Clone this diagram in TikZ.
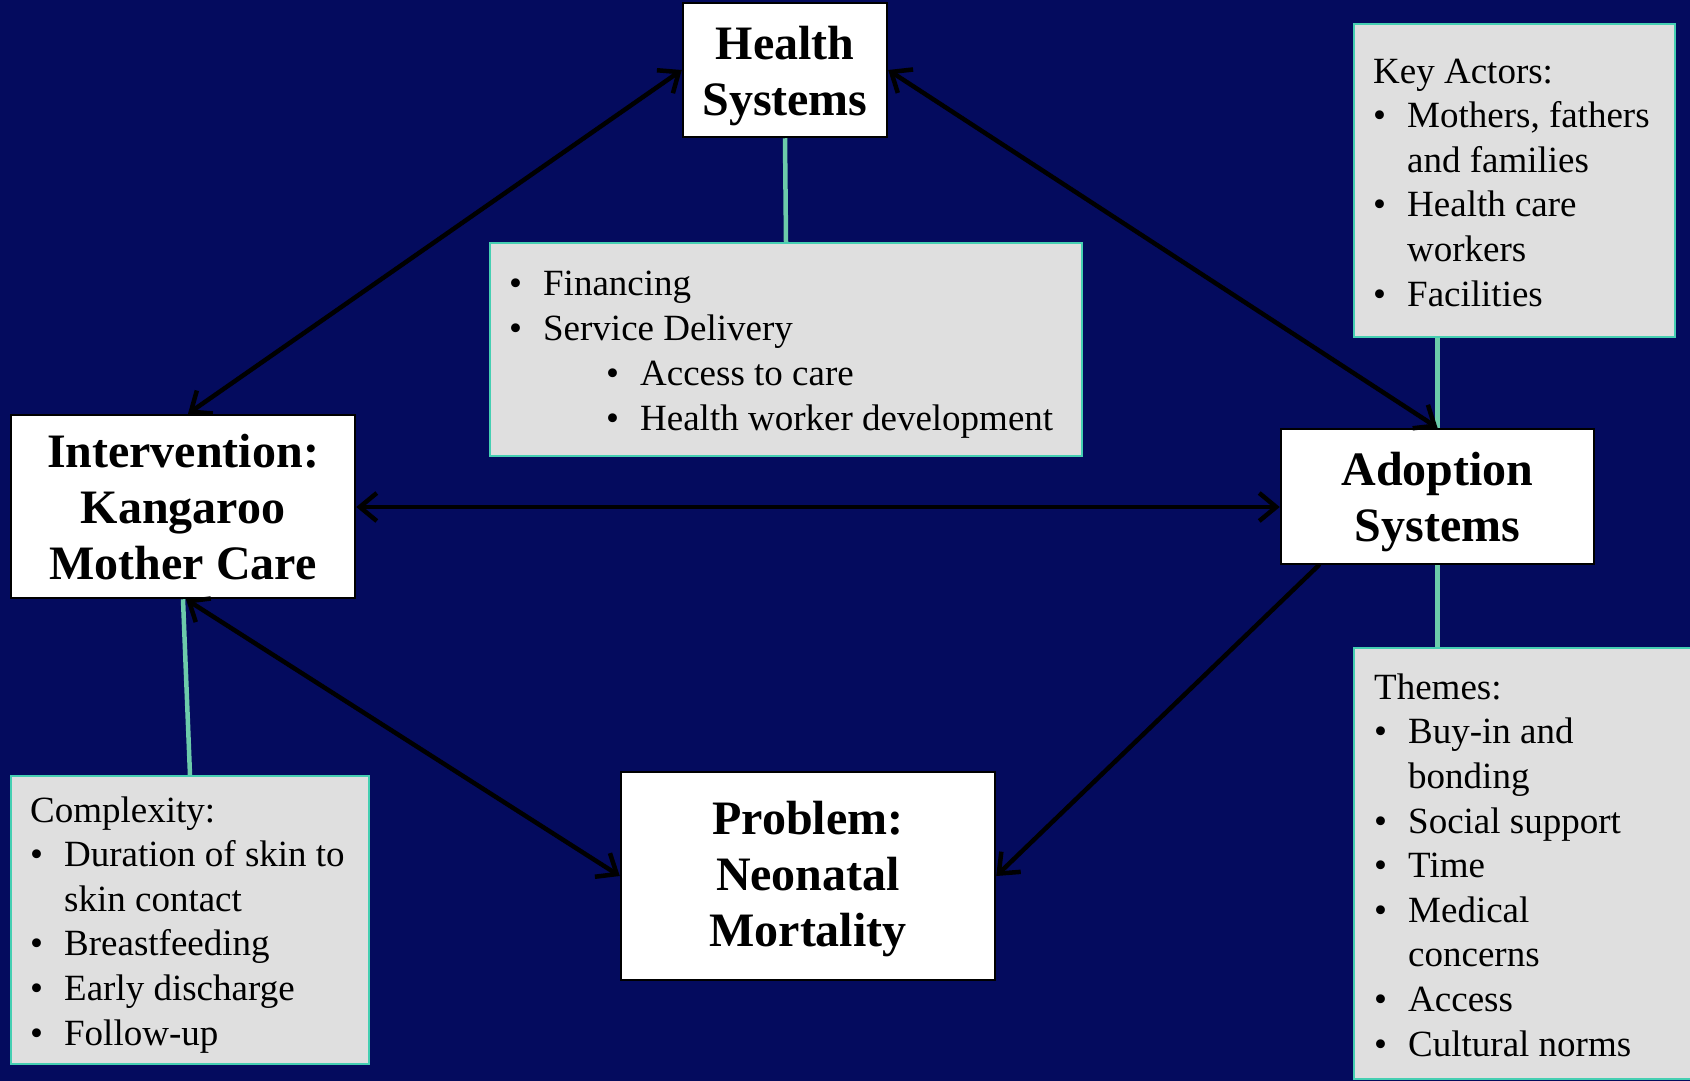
\documentclass[tikz,border=0pt]{standalone}
\usepackage{fontspec}
\setmainfont{Liberation Serif}
\usetikzlibrary{arrows.meta}
\definecolor{bg}{HTML}{040B5E}
\definecolor{grayfill}{HTML}{DFDFDF}
\definecolor{tealborder}{HTML}{45CFB2}
\definecolor{linkgreen}{HTML}{6CCBAA}
\newcommand\mybul{\makebox[34pt][l]{\textbullet}}
\begin{document}
\begin{tikzpicture}[x=1pt,y=-1pt,
  titlebox/.style={draw=black, line width=2.5pt, fill=white, inner sep=0pt},
  titletext/.style={align=center, inner sep=0pt, text=black,
    font=\bfseries\fontsize{48}{56}\selectfont},
  graybox/.style={draw=tealborder, line width=2pt, fill=grayfill, anchor=north west, inner sep=0pt},
  listtext/.style={anchor=base west, align=left, inner sep=0pt, text=black,
    font=\fontsize{37}{44.6}\selectfont},
  link/.style={draw=linkgreen, line width=4.5pt},
  arrboth/.style={draw=black, line width=4.5pt, line cap=round,
    {Straight Barb[length=17pt,width=28pt]}-{Straight Barb[length=17pt,width=28pt]}},
  arrone/.style={draw=black, line width=4.5pt, line cap=round,
    -{Straight Barb[length=17pt,width=28pt]}}
]
\fill[bg] (0,0) rectangle (1690,1081);
\useasboundingbox (0,0) rectangle (1690,1081);

% gray boxes
\node[graybox, minimum width=592pt, minimum height=213pt] (fin) at (489,242) {};
\node[graybox, minimum width=321pt, minimum height=313pt] (key) at (1353,23) {};
\node[graybox, minimum width=358pt, minimum height=288pt] (cmp) at (10,775) {};
\node[graybox, minimum width=337pt, minimum height=431pt] (thm) at (1353,647) {};

% texts in gray boxes (anchored at the baseline of the last line)
\node[listtext, font=\fontsize{37}{45}\selectfont] (fintext) at (509,430) {\mybul Financing\\
\mybul Service Delivery\\
\hspace*{97pt}\mybul Access to care\\
\hspace*{97pt}\mybul Health worker development};
\node[listtext] (keytext) at (1373,306) {Key Actors:\\
\mybul Mothers, fathers\\
\hspace*{34pt}and families\\
\mybul Health care\\
\hspace*{34pt}workers\\
\mybul Facilities};
\node[listtext] (cmptext) at (30,1045) {Complexity:\\
\mybul Duration of skin to\\
\hspace*{34pt}skin contact\\
\mybul Breastfeeding\\
\mybul Early discharge\\
\mybul Follow-up};
\node[listtext] (thmtext) at (1374,1056) {Themes:\\
\mybul Buy-in and\\
\hspace*{34pt}bonding\\
\mybul Social support\\
\mybul Time\\
\mybul Medical\\
\hspace*{34pt}concerns\\
\mybul Access\\
\mybul Cultural norms};

% title boxes
\node[titlebox, minimum width=204pt, minimum height=134pt] (hs) at (785,70) {};
\node[titlebox, minimum width=344pt, minimum height=183pt] (int) at (183,506.5) {};
\node[titlebox, minimum width=313pt, minimum height=135pt] (ado) at (1437.5,496.5) {};
\node[titlebox, minimum width=374pt, minimum height=208pt] (prob) at (808,876) {};
\node[titletext] (hstext) at ([yshift=-6pt]hs.center) {Health\\Systems};
\node[titletext] (inttext) at ([yshift=-1pt]int.center) {Intervention:\\Kangaroo\\Mother Care};
\node[titletext] (adotext) at ([yshift=-6pt]ado.center) {Adoption\\Systems};
\node[titletext] (probtext) at ([yshift=-3pt]prob.center) {Problem:\\Neonatal\\Mortality};

% green links
\draw[link] (hs.south) -- (fin.north);
\draw[link] (ado.north) -- (ado.north |- key.south);
\draw[link] (ado.south) -- (ado.south |- thm.north);
\draw[link] (int.south) -- (cmp.north);

% arrows
\draw[arrboth] ([xshift=5pt]int.north) -- (hs.west);
\draw[arrboth] (hs.east) -- (ado.north);
\draw[arrboth] ([yshift=-0.5pt]int.east) -- ([yshift=-0.5pt]int.east -| ado.west);
\draw[arrboth] ([xshift=3pt]int.south) -- (prob.west);
\draw[arrone] ([xshift=39pt]ado.south west) -- (prob.east);
\end{tikzpicture}
\end{document}
